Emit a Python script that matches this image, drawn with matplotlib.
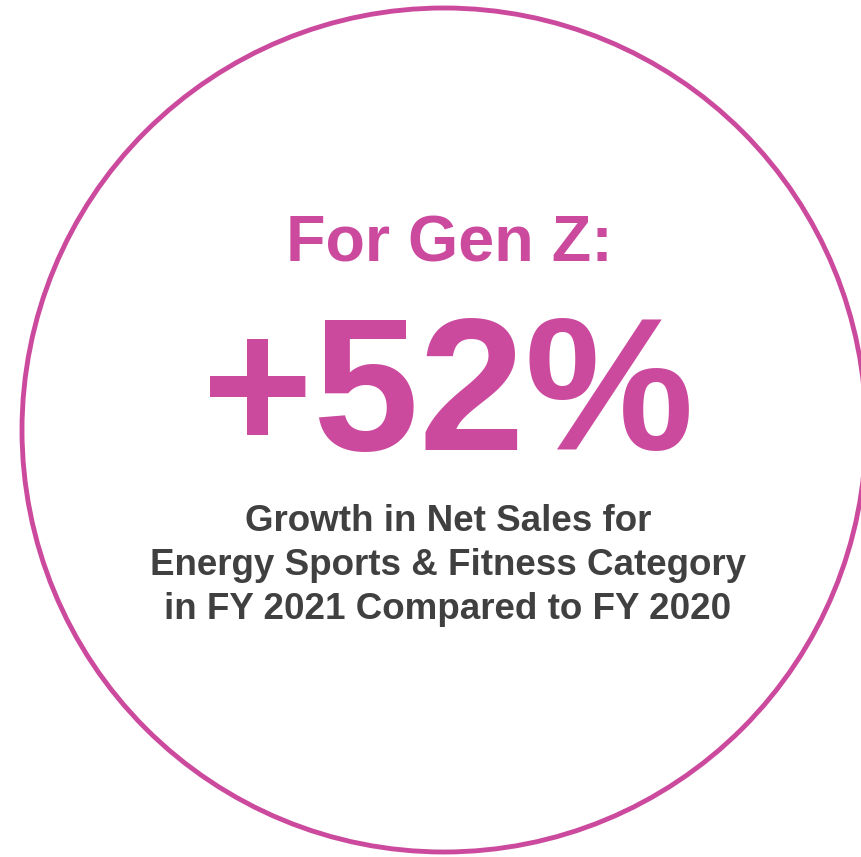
import matplotlib
matplotlib.use("Agg")
import matplotlib.pyplot as plt
from matplotlib.patches import Circle

# Data
headline = "For Gen Z:"
growth_pct = 52
caption_lines = [
    "Growth in Net Sales for",
    "Energy Sports & Fitness Category",
    "in FY 2021 Compared to FY 2020",
]

PINK = "#CC4A9E"
GRAY = "#404040"

W, H = 861, 857
fig = plt.figure(figsize=(W / 100, H / 100), dpi=100)
ax = fig.add_axes([0, 0, 1, 1])
ax.set_xlim(0, W)
ax.set_ylim(H, 0)
ax.axis("off")

ax.add_patch(Circle((444, 430), 422, fill=False, edgecolor=PINK, linewidth=3.5))

fam = ["Liberation Sans", "DejaVu Sans"]
ax.text(449, 262, headline, ha="center", va="baseline", color=PINK,
        fontsize=46.5, fontweight="bold", family=fam)
ax.text(448, 450, f"+{growth_pct}%", ha="center", va="baseline", color=PINK,
        fontsize=137, fontweight="bold", family=fam)
for i, line in enumerate(caption_lines):
    ax.text(448, 531 + 44 * i, line, ha="center", va="baseline", color=GRAY,
            fontsize=26.5, fontweight="bold", family=fam)

fig.savefig("out.png", dpi=100)
